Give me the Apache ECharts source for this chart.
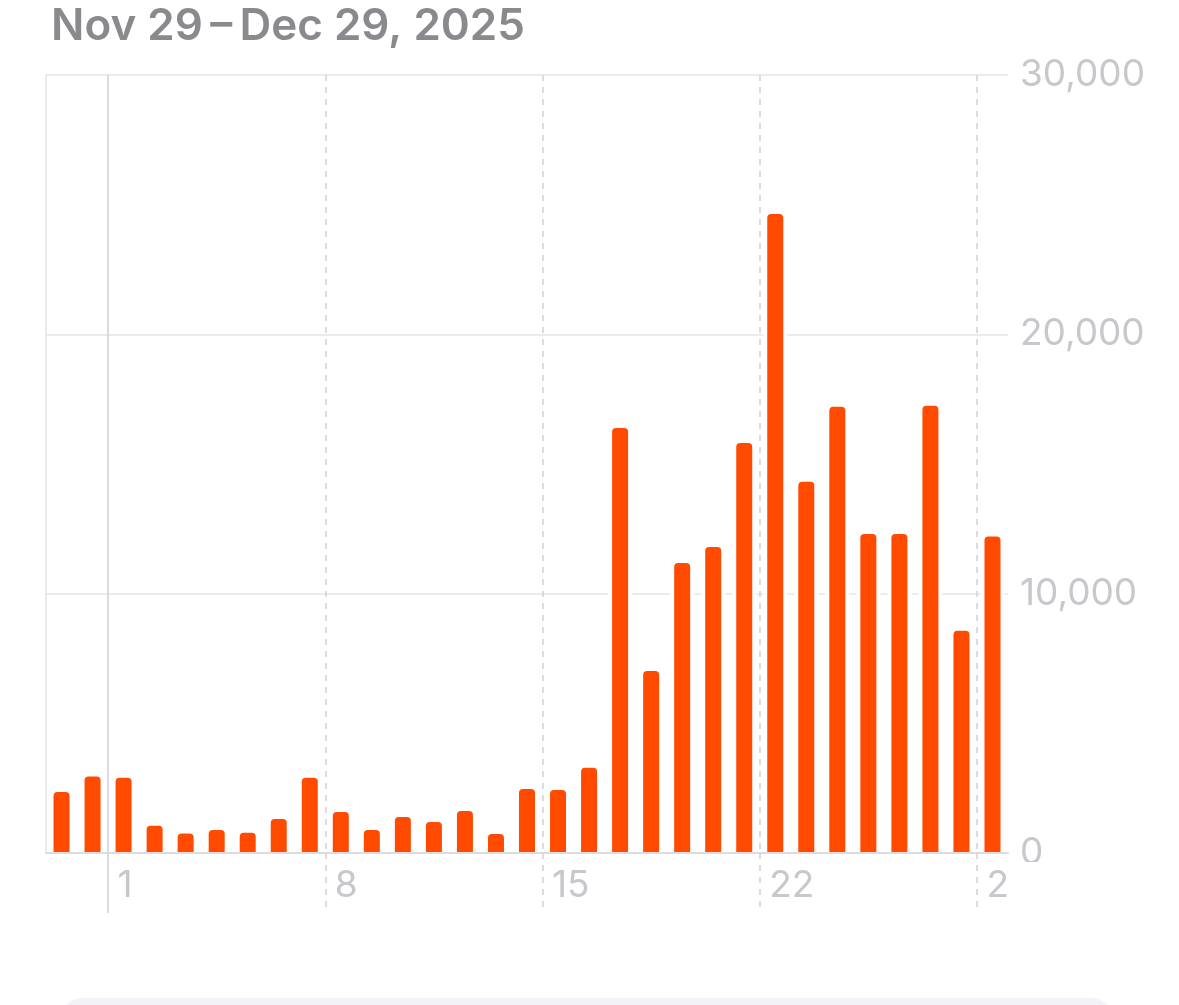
<!DOCTYPE html>
<html><head><meta charset="utf-8">
<script src="https://cdn.jsdelivr.net/npm/echarts@6/dist/echarts.min.js"></script>
<style>html,body{margin:0;padding:0;background:#fff}#c{width:1179px;height:1005px}</style>
</head><body><div id="c"></div>
<script>
const titleText = 'Nov 29\u2009\u2013\u2009Dec 29, 2025';
const days = ['29','30','1','2','3','4','5','6','7','8','9','10','11','12','13','14','15','16','17','18','19','20','21','22','23','24','25','26','27','28','29'];
const values = [2350,2950,2900,1050,750,890,780,1310,2900,1580,890,1390,1200,1620,730,2470,2430,3290,16390,7020,11180,11800,15810,24640,14320,17210,12300,12300,17250,8570,12200];
const monthStartIdx = [2];
const weekStartIdx = [9,16,23,30];
const labelIdx = [2,9,16,23,30];

// day boundaries (start of each day, plus end of last day)
const boundaries = days.concat(['30']);

const FONT = 'Inter, "Noto Sans", sans-serif';
const chart = echarts.init(document.getElementById('c'), null, {renderer:'canvas'});
const gridColor = '#e5e5ea';
const vColor = '#d1d1d6';
const labelColor = '#c7c7cc';

function lineAxis(idxList, type){
  return {
    type:'category',data:boundaries,boundaryGap:false,position:'bottom',z:5,
    axisLine:{show:false},
    axisTick:{show:true,length:60,interval:(i)=>idxList.includes(i),lineStyle:{color:vColor,width:1.5,type:type}},
    splitLine:{show:true,interval:(i)=>idxList.includes(i),lineStyle:{color:vColor,width:1.5,type:type}},
    axisLabel:{show:false}
  };
}

chart.setOption({
  animation:false,
  backgroundColor:'#ffffff',
  title:{text:titleText,left:46,top:0,textStyle:{fontFamily:FONT,fontSize:44,fontWeight:600,color:'#8a8a8e'}},
  grid:{left:46,right:171,top:75,bottom:152,containLabel:false},
  xAxis:[{
    type:'category',data:days,boundaryGap:true,z:5,
    axisLine:{show:true,lineStyle:{color:'#dcdce0',width:2}},
    axisTick:{show:false},
    splitLine:{show:false},
    axisLabel:{show:true,interval:(i)=>labelIdx.includes(i),margin:14,align:'center',
      formatter:(v)=>'{a|'+v+'}',
      rich:{a:{width:12,align:'left',fontFamily:FONT,fontSize:37,color:labelColor}}}
  },
  lineAxis(weekStartIdx,[6,6]),
  lineAxis(monthStartIdx,'solid')
  ],
  yAxis:[{
    type:'value',position:'right',min:0,max:30000,interval:10000,
    axisLine:{show:false},axisTick:{show:false},
    splitLine:{show:true,lineStyle:{color:gridColor,width:1.5}},
    axisLabel:{margin:12,fontFamily:FONT,fontSize:37,color:labelColor,
      formatter:(v)=>v.toLocaleString('en-US')}
  },{
    type:'value',position:'left',min:0,max:30000,interval:10000,
    axisLine:{show:true,lineStyle:{color:gridColor,width:1.5}},
    axisTick:{show:false},splitLine:{show:false},axisLabel:{show:false}
  }],
  series:[{
    type:'custom',
    data:values.map((v,i)=>[i,v]),
    encode:{x:0,y:1},
    z:3,
    renderItem:(params,api)=>{
      const top = api.coord([api.value(0),api.value(1)]);
      const base = api.coord([api.value(0),0]);
      const x = top[0];
      const h = base[1]-top[1];
      return {type:'group',children:[
        {type:'rect',shape:{x:x-12,y:top[1]-3,width:24,height:h+3},style:{fill:'#ffffff'}},
        {type:'rect',shape:{x:x-8,y:top[1],width:16,height:h,r:[4,4,0,0]},style:{fill:'#ff4a00'}}
      ]};
    }
  }],
  graphic:[
    {type:'rect',z:100,shape:{x:1008,y:862,width:40,height:48},style:{fill:'#ffffff'}},
    {type:'rect',z:100,shape:{x:62,y:998,width:1050,height:60,r:20},style:{fill:'#f2f2f7'}}
  ]
});
</script></body></html>
